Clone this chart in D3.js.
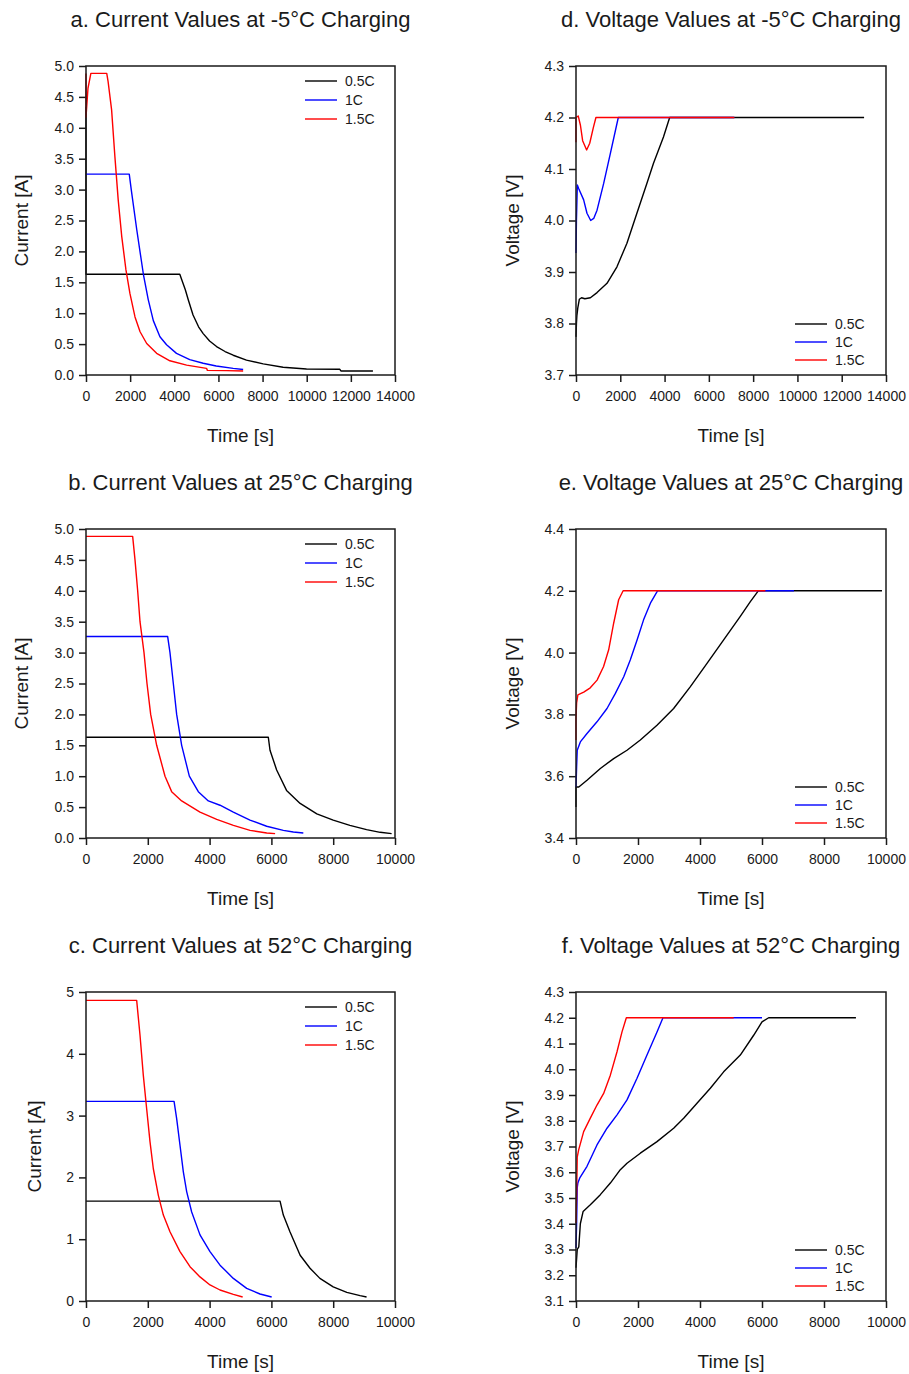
<!DOCTYPE html>
<html>
<head>
<meta charset="utf-8">
<script src="https://cdn.jsdelivr.net/npm/d3@7/dist/d3.min.js"></script>
<style>
  body { margin: 0; background: #fff; }
  svg text { font-family: 'Liberation Sans', Arial, sans-serif; fill: #1a1a1a; }
</style>
</head>
<body>
<div id="chart"></div>
<script>
// legend entries, drawn in this order (red ends up on top)
const seriesNames = ['0.5C', '1C', '1.5C'];
const seriesColors = ['#000000', '#0000ff', '#ff0000'];

// tick labels
const xTicks14k = [0, 2000, 4000, 6000, 8000, 10000, 12000, 14000];
const xTicks10k = [0, 2000, 4000, 6000, 8000, 10000];
const yTicksCurHalf = [0, 0.5, 1, 1.5, 2, 2.5, 3, 3.5, 4, 4.5, 5];
const yTicksCurInt = [0, 1, 2, 3, 4, 5];
const yTicksVoltM5 = [3.7, 3.8, 3.9, 4.0, 4.1, 4.2, 4.3];
const yTicksVolt25 = [3.4, 3.6, 3.8, 4.0, 4.2, 4.4];
const yTicksVolt52 = [3.1, 3.2, 3.3, 3.4, 3.5, 3.6, 3.7, 3.8, 3.9, 4.0, 4.1, 4.2, 4.3];

// a. current at -5°C  [time s, current A]
const curM5_05C = [[0, 4.34], [0, 1.63], [4250, 1.63], [4330, 1.55], [4500, 1.38], [4640, 1.21], [4850, 0.97], [5100, 0.78], [5310, 0.67], [5600, 0.55], [5915, 0.46], [6300, 0.38], [6670, 0.32], [7270, 0.24], [8030, 0.18], [8930, 0.125], [9990, 0.098], [11500, 0.092], [11550, 0.065], [13000, 0.065]];
const curM5_1C = [[0, 3.25], [1960, 3.25], [2050, 3.0], [2300, 2.35], [2600, 1.63], [2820, 1.22], [3050, 0.88], [3350, 0.62], [3650, 0.49], [4100, 0.35], [4700, 0.25], [5310, 0.19], [5900, 0.146], [6670, 0.108], [7120, 0.09]];
const curM5_15C = [[0, 4.88], [0, 4.17], [90, 4.64], [220, 4.88], [940, 4.88], [1000, 4.75], [1160, 4.29], [1310, 3.53], [1460, 2.83], [1620, 2.24], [1810, 1.70], [1990, 1.32], [2220, 0.94], [2450, 0.70], [2750, 0.51], [3200, 0.35], [3800, 0.23], [4560, 0.16], [5460, 0.108], [5500, 0.075], [6370, 0.07], [7120, 0.065]];

// b. current at 25°C
const cur25_05C = [[0, 1.63], [5900, 1.63], [5955, 1.42], [6170, 1.10], [6490, 0.77], [6930, 0.56], [7470, 0.39], [8000, 0.29], [8540, 0.205], [9080, 0.135], [9520, 0.092], [9890, 0.07]];
const cur25_1C = [[0, 3.26], [2643, 3.26], [2718, 3.0], [2826, 2.5], [2934, 2.0], [3096, 1.5], [3344, 1.0], [3635, 0.75], [3959, 0.6], [4337, 0.53], [4768, 0.42], [5307, 0.29], [5847, 0.19], [6386, 0.124], [6710, 0.097], [7033, 0.081]];
const cur25_15C = [[0, 4.88], [1510, 4.88], [1586, 4.5], [1672, 4.0], [1748, 3.5], [1877, 3.0], [1974, 2.5], [2093, 2.0], [2287, 1.5], [2557, 1.0], [2772, 0.75], [3096, 0.6], [3690, 0.42], [4230, 0.30], [4770, 0.205], [5310, 0.124], [5850, 0.081], [6120, 0.07]];

// c. current at 52°C
const cur52_05C = [[0, 1.616], [6280, 1.616], [6386, 1.39], [6600, 1.12], [6930, 0.74], [7250, 0.53], [7570, 0.366], [8000, 0.23], [8440, 0.14], [8870, 0.086], [9080, 0.065]];
const cur52_1C = [[0, 3.23], [2850, 3.23], [2934, 2.95], [3042, 2.52], [3150, 2.09], [3258, 1.77], [3420, 1.44], [3689, 1.07], [4013, 0.80], [4337, 0.58], [4768, 0.366], [5200, 0.205], [5631, 0.113], [6009, 0.065]];
const cur52_15C = [[0, 4.865], [1640, 4.865], [1748, 4.30], [1855, 3.65], [1963, 3.11], [2071, 2.58], [2179, 2.14], [2341, 1.71], [2503, 1.39], [2718, 1.12], [3042, 0.80], [3366, 0.555], [3689, 0.39], [4013, 0.26], [4337, 0.178], [4768, 0.108], [5070, 0.065]];

// d. voltage at -5°C  [time s, voltage V]
const voltM5_05C = [[0, 3.774], [20, 3.80], [40, 3.815], [80, 3.83], [150, 3.847], [250, 3.850], [400, 3.848], [650, 3.850], [950, 3.860], [1400, 3.878], [1850, 3.910], [2300, 3.956], [2750, 4.014], [3200, 4.072], [3500, 4.111], [3950, 4.162], [4230, 4.2], [13010, 4.2]];
const voltM5_1C = [[0, 3.937], [20, 4.0], [60, 4.069], [120, 4.062], [346, 4.04], [496, 4.014], [664, 4.0], [800, 4.004], [950, 4.02], [1250, 4.072], [1550, 4.13], [1910, 4.2], [7150, 4.2]];
const voltM5_15C = [[0, 4.152], [0, 4.2], [100, 4.203], [200, 4.185], [300, 4.155], [480, 4.137], [620, 4.15], [780, 4.18], [900, 4.2], [7150, 4.2]];

// e. voltage at 25°C
const volt25_05C = [[0, 3.50], [0, 3.565], [90, 3.565], [355, 3.587], [785, 3.625], [1215, 3.657], [1645, 3.684], [2075, 3.717], [2613, 3.765], [3150, 3.819], [3690, 3.890], [4226, 3.965], [4763, 4.041], [5300, 4.117], [5624, 4.165], [5880, 4.2], [9870, 4.2]];
const volt25_1C = [[0, 3.565], [20, 3.63], [40, 3.684], [140, 3.711], [355, 3.738], [677, 3.776], [1000, 3.819], [1270, 3.868], [1540, 3.922], [1750, 3.976], [1970, 4.041], [2180, 4.106], [2400, 4.16], [2630, 4.2], [7030, 4.2]];
const volt25_15C = [[0, 3.717], [0, 3.788], [20, 3.837], [60, 3.863], [250, 3.872], [460, 3.886], [680, 3.911], [890, 3.955], [1054, 4.009], [1215, 4.095], [1376, 4.171], [1520, 4.2], [6110, 4.2]];

// f. voltage at 52°C
const volt52_05C = [[0, 3.229], [40, 3.30], [90, 3.31], [140, 3.40], [230, 3.448], [462, 3.474], [785, 3.513], [1108, 3.558], [1430, 3.61], [1645, 3.635], [2075, 3.674], [2613, 3.719], [3150, 3.771], [3473, 3.81], [3903, 3.868], [4333, 3.926], [4763, 3.99], [5300, 4.055], [5731, 4.132], [6000, 4.184], [6215, 4.2], [9030, 4.2]];
const volt52_1C = [[0, 3.306], [20, 3.40], [40, 3.54], [60, 3.558], [118, 3.577], [355, 3.623], [677, 3.706], [1000, 3.771], [1323, 3.823], [1645, 3.881], [1968, 3.965], [2290, 4.055], [2613, 4.145], [2806, 4.2], [6000, 4.2]];
const volt52_15C = [[0, 3.403], [20, 3.513], [40, 3.659], [86, 3.687], [247, 3.758], [462, 3.81], [677, 3.861], [892, 3.906], [1108, 3.977], [1323, 4.068], [1484, 4.145], [1624, 4.2], [5086, 4.2]];

const width = 909;
const height = 1374;

// plot frames (pixel boxes)
const colX = [[86, 395], [576, 886]];
const rowY = [[66, 375], [529, 838], [992, 1301]];

const panels = [
  { col: 0, row: 0, title: 'a. Current Values at -5°C Charging', yLabel: 'Current [A]', xMax: 14000, xTicks: xTicks14k, yDomain: [0, 5], yTicks: yTicksCurHalf, yFmt: '.1f', yLabelX: 21, legend: 'top', series: [curM5_05C, curM5_1C, curM5_15C] },
  { col: 0, row: 1, title: 'b. Current Values at 25°C Charging', yLabel: 'Current [A]', xMax: 10000, xTicks: xTicks10k, yDomain: [0, 5], yTicks: yTicksCurHalf, yFmt: '.1f', yLabelX: 21, legend: 'top', series: [cur25_05C, cur25_1C, cur25_15C] },
  { col: 0, row: 2, title: 'c. Current Values at 52°C Charging', yLabel: 'Current [A]', xMax: 10000, xTicks: xTicks10k, yDomain: [0, 5], yTicks: yTicksCurInt, yFmt: 'd', yLabelX: 34, legend: 'top', series: [cur52_05C, cur52_1C, cur52_15C] },
  { col: 1, row: 0, title: 'd. Voltage Values at -5°C Charging', yLabel: 'Voltage [V]', xMax: 14000, xTicks: xTicks14k, yDomain: [3.7, 4.3], yTicks: yTicksVoltM5, yFmt: '.1f', yLabelX: 512, legend: 'bottom', series: [voltM5_05C, voltM5_1C, voltM5_15C] },
  { col: 1, row: 1, title: 'e. Voltage Values at 25°C Charging', yLabel: 'Voltage [V]', xMax: 10000, xTicks: xTicks10k, yDomain: [3.4, 4.4], yTicks: yTicksVolt25, yFmt: '.1f', yLabelX: 512, legend: 'bottom', series: [volt25_05C, volt25_1C, volt25_15C] },
  { col: 1, row: 2, title: 'f. Voltage Values at 52°C Charging', yLabel: 'Voltage [V]', xMax: 10000, xTicks: xTicks10k, yDomain: [3.1, 4.3], yTicks: yTicksVolt52, yFmt: '.1f', yLabelX: 512, legend: 'bottom', series: [volt52_05C, volt52_1C, volt52_15C] }
];

const svg = d3
  .select('#chart')
  .append('svg')
  .attr('width', width)
  .attr('height', height)
  .style('display', 'block');

svg.append('rect').attr('width', width).attr('height', height).attr('fill', '#fff');

function drawPanel(p) {
  const [left, right] = colX[p.col];
  const [top, bottom] = rowY[p.row];

  const x = d3.scaleLinear().domain([0, p.xMax]).range([left, right]);
  const y = d3.scaleLinear().domain(p.yDomain).range([bottom, top]);

  const g = svg.append('g');

  // X axis
  g.append('g')
    .attr('transform', `translate(0,${bottom})`)
    .call(d3.axisBottom(x).tickValues(p.xTicks).tickFormat(d3.format('d')).tickSize(7).tickSizeOuter(0).tickPadding(9))
    .attr('font-size', 14)
    .attr('color', '#1a1a1a')
    .call((a) => a.select('.domain').remove())
    .call((a) => a.selectAll('.tick line').attr('stroke-width', 1.5));

  // Y axis
  g.append('g')
    .attr('transform', `translate(${left},0)`)
    .call(d3.axisLeft(y).tickValues(p.yTicks).tickFormat(d3.format(p.yFmt)).tickSize(7).tickSizeOuter(0).tickPadding(5))
    .attr('font-size', 14)
    .attr('color', '#1a1a1a')
    .call((a) => a.select('.domain').remove())
    .call((a) => a.selectAll('.tick line').attr('stroke-width', 1.5));

  // Lines
  const line = d3
    .line()
    .x((d) => x(d[0]))
    .y((d) => y(d[1]));

  p.series.forEach((s, i) => {
    g.append('path')
      .datum(s)
      .attr('d', line)
      .attr('fill', 'none')
      .attr('stroke', seriesColors[i])
      .attr('stroke-width', 1.4)
      .attr('stroke-linejoin', 'round');
  });

  // Frame
  g.append('rect')
    .attr('x', left)
    .attr('y', top)
    .attr('width', right - left)
    .attr('height', bottom - top)
    .attr('fill', 'none')
    .attr('stroke', '#1a1a1a')
    .attr('stroke-width', 1.5);

  // Legend
  const legendRows = p.legend === 'top' ? [top + 15, top + 34, top + 53] : [bottom - 51, bottom - 33, bottom - 15];
  seriesNames.forEach((name, i) => {
    g.append('line')
      .attr('x1', left + 219)
      .attr('x2', left + 251)
      .attr('y1', legendRows[i])
      .attr('y2', legendRows[i])
      .attr('stroke', seriesColors[i])
      .attr('stroke-width', 1.4);
    g.append('text')
      .attr('x', left + 259)
      .attr('y', legendRows[i])
      .attr('dy', '0.35em')
      .attr('font-size', 14)
      .text(name);
  });

  // Titles
  g.append('text')
    .attr('x', (left + right) / 2)
    .attr('y', top - 39)
    .attr('text-anchor', 'middle')
    .attr('font-size', 22)
    .text(p.title);

  g.append('text')
    .attr('x', (left + right) / 2)
    .attr('y', bottom + 67)
    .attr('text-anchor', 'middle')
    .attr('font-size', 19)
    .text('Time [s]');

  g.append('text')
    .attr('transform', `translate(${p.yLabelX},${(top + bottom) / 2}) rotate(-90)`)
    .attr('dy', '0.35em')
    .attr('text-anchor', 'middle')
    .attr('font-size', 19)
    .text(p.yLabel);
}

panels.forEach(drawPanel);
</script>
</body>
</html>
